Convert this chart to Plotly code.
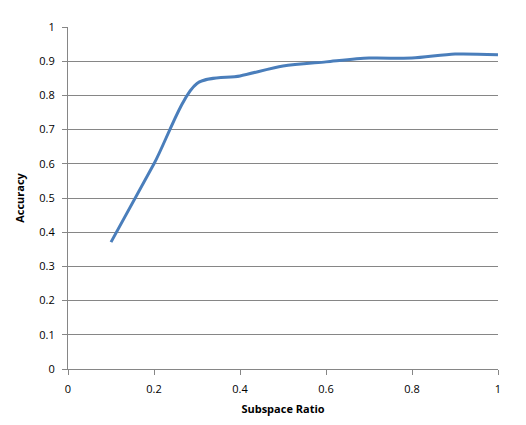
import plotly.graph_objects as go

subspace_ratio = [0.1, 0.2, 0.3, 0.4, 0.5, 0.6, 0.7, 0.8, 0.9, 1.0]
accuracy = [0.371, 0.60, 0.835, 0.857, 0.886, 0.898, 0.909, 0.909, 0.921, 0.919]
x_ticks = [0, 0.2, 0.4, 0.6, 0.8, 1]
x_tick_labels = ["0", "0.2", "0.4", "0.6", "0.8", "1"]
y_ticks = [0, 0.1, 0.2, 0.3, 0.4, 0.5, 0.6, 0.7, 0.8, 0.9, 1]
y_tick_labels = ["0", "0.1", "0.2", "0.3", "0.4", "0.5", "0.6", "0.7", "0.8", "0.9", "1"]

fig = go.Figure()
fig.add_trace(go.Scatter(
    x=subspace_ratio, y=accuracy, mode="lines",
    line=dict(color="#4A7EBB", width=3, shape="spline", smoothing=0.8),
    showlegend=False,
))

# page body has an ~8px default margin; size the figure to fit the window
fig.update_layout(
    width=510, height=409,
    margin=dict(l=60, r=20, t=19, b=48),
    paper_bgcolor="white", plot_bgcolor="white",
    font=dict(family="Open Sans, Liberation Sans, sans-serif", size=11, color="#000"),
)
fig.update_xaxes(
    range=[0, 1], tickvals=x_ticks, ticktext=x_tick_labels,
    showgrid=False, showline=True, linecolor="#868686", linewidth=1,
    ticks="outside", tickcolor="#868686", ticklen=5,
    ticklabelstandoff=5,
    title=dict(text="<b>Subspace Ratio</b>", font=dict(size=11), standoff=10),
    zeroline=False, automargin=False,
)
fig.update_yaxes(
    range=[0, 1], tickvals=y_ticks, ticktext=y_tick_labels,
    showgrid=True, gridcolor="#868686", gridwidth=1,
    showline=True, linecolor="#868686", linewidth=1,
    ticks="outside", tickcolor="#868686", ticklen=5,
    ticklabelstandoff=5,
    title=dict(text="<b>Accuracy</b>", font=dict(size=11), standoff=12),
    zeroline=False, automargin=False,
)

fig.write_html("out.html")
